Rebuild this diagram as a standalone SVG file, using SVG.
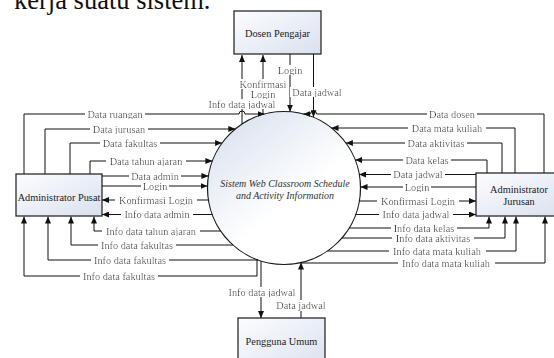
<svg xmlns="http://www.w3.org/2000/svg" width="554" height="358" viewBox="0 0 554 358">
<style>
.box{stroke:#2b2b2b;stroke-width:1.3;fill:url(#bg)}
.nt{font-family:"Liberation Serif","Times New Roman",serif;font-size:10.3px;fill:#1a1a1a;text-anchor:middle}
.ct{font-family:"Liberation Serif","Times New Roman",serif;font-size:10px;font-style:italic;fill:#333;text-anchor:middle}
.c path{fill:none;stroke:#111;stroke-width:1;marker-end:url(#ah)}
.l{font-family:"Liberation Serif","Times New Roman",serif;font-size:10.3px;fill:#1a1a1a;text-anchor:middle;filter:url(#wb)}
</style>
<defs>
<linearGradient id="bg" x1="0" y1="0" x2="1" y2="1">
<stop offset="0" stop-color="#fdfdff"/>
<stop offset="1" stop-color="#d9e0ee"/>
</linearGradient>
<linearGradient id="cg" x1="0.1" y1="0" x2="0.8" y2="0.9">
<stop offset="0" stop-color="#d8e0ee"/>
<stop offset="0.65" stop-color="#ffffff"/>
</linearGradient>
<filter id="wb" x="-0.04" y="0.08" width="1.08" height="0.84">
<feFlood flood-color="#ffffff" result="f"/>
<feComposite in="SourceGraphic" in2="f" operator="over"/>
</filter>
<marker id="ah" markerUnits="userSpaceOnUse" markerWidth="7" markerHeight="6" refX="7" refY="3" orient="auto">
<path d="M0,0 L7,3 L0,6 z" fill="#111"/>
</marker>
</defs>

<text x="14" y="9" font-family="Liberation Serif, Times New Roman, serif" font-size="26.5" fill="#111">kerja suatu sistem.</text>

<g id="dosen">
<rect class="box" x="234" y="11" width="87" height="43"/>
<text class="nt" x="277.5" y="36.5">Dosen Pengajar</text>
</g>
<g id="adminPusat">
<rect class="box" x="16" y="174" width="86" height="42"/>
<text class="nt" x="59" y="200.5">Administrator Pusat</text>
</g>
<g id="adminJurusan">
<rect class="box" x="476" y="173" width="90" height="43"/>
<text class="nt" x="519" y="192.5">Administrator</text>
<text class="nt" x="519" y="205">Jurusan</text>
</g>
<g id="pengguna">
<rect class="box" x="238" y="318" width="87" height="52"/>
<text class="nt" x="281.5" y="344.5">Pengguna Umum</text>
</g>
<g id="sistem">
<circle cx="284" cy="188" r="76.5" fill="url(#cg)" stroke="#1a1a1a" stroke-width="1.2"/>
<text class="ct" x="285" y="186.5">Sistem Web Classroom Schedule</text>
<text class="ct" x="285" y="198.5">and Activity Information</text>
</g>

<g id="connectors" class="c">
<path d="M242,124 V55"/>
<path d="M263,114.5 V55"/>
<path d="M290,54 V111.7"/>
<path d="M313.5,54 V117.2"/>

<path d="M24,174 V114 H239 a3,3 0 0 1 6,0 H264.5"/>
<path d="M45,174 V129 H235.3"/>
<path d="M70,174 V143 H222.1"/>
<path d="M90,174 V161 H212.4"/>
<path d="M102,176 H208.4"/>
<path d="M102,186 H207.5"/>
<path d="M208.4,200 H102"/>
<path d="M212.4,214.5 H102"/>
<path d="M220.7,231 H94 V216.5"/>
<path d="M233,245 H71 V216.5"/>
<path d="M258,260 H48 V216.5"/>
<path d="M257,259.6 V276 H24 V216.5"/>

<path d="M261,261 V318"/>
<path d="M301,318 V262.6"/>

<path d="M544,173 V114 H316.5 a3,3 0 0 0 -6,0 H303.4"/>
<path d="M515,173 V128 H331.5"/>
<path d="M502,173 V143 H345.9"/>
<path d="M487,173 V160 H355.2"/>
<path d="M476,174.5 H359"/>
<path d="M476,187 H360.5"/>
<path d="M359.4,201 H476"/>
<path d="M355.6,214.5 H476"/>
<path d="M349.2,228 H489 V216.5"/>
<path d="M341.9,238 H505 V216.5"/>
<path d="M327.4,251 H516 V216.5"/>
<path d="M301,263 H545 V216.5"/>

<g id="labels">
<text class="l" x="290" y="73.5">Login</text>
<text class="l" x="263" y="87.5">Konfirmasi</text>
<text class="l" x="263" y="97.5">Login</text>
<text class="l" x="317" y="95.5">Data jadwal</text>
<text class="l" x="242" y="107.5">Info data jadwal</text>

<text class="l" x="115" y="117.5">Data ruangan</text>
<text class="l" x="119" y="132.5">Data jurusan</text>
<text class="l" x="130" y="146.5">Data fakultas</text>
<text class="l" x="146" y="164.5">Data tahun ajaran</text>
<text class="l" x="155" y="179.5">Data admin</text>
<text class="l" x="155" y="189.5">Login</text>
<text class="l" x="156" y="203.5">Konfirmasi Login</text>
<text class="l" x="157" y="218">Info data admin</text>
<text class="l" x="151" y="234.5">Info data tahun ajaran</text>
<text class="l" x="137" y="248.5">Info data fakultas</text>
<text class="l" x="130" y="263.5">Info data fakultas</text>
<text class="l" x="119" y="279.5">Info data fakultas</text>

<text class="l" x="262" y="295.5">Info data jadwal</text>
<text class="l" x="301" y="309">Data jadwal</text>

<text class="l" x="452" y="117.5">Data dosen</text>
<text class="l" x="447" y="131.5">Data mata kuliah</text>
<text class="l" x="436" y="146.5">Data aktivitas</text>
<text class="l" x="427" y="163.5">Data kelas</text>
<text class="l" x="418" y="178">Data jadwal</text>
<text class="l" x="417" y="190.5">Login</text>
<text class="l" x="418" y="204.5">Konfirmasi Login</text>
<text class="l" x="416" y="218">Info data jadwal</text>
<text class="l" x="424" y="231.5">Info data kelas</text>
<text class="l" x="433" y="241.5">Info data aktivitas</text>
<text class="l" x="437" y="254.5">Info data mata kuliah</text>
<text class="l" x="446" y="266.5">Info data mata kuliah</text>
</g>
</g>
</svg>
